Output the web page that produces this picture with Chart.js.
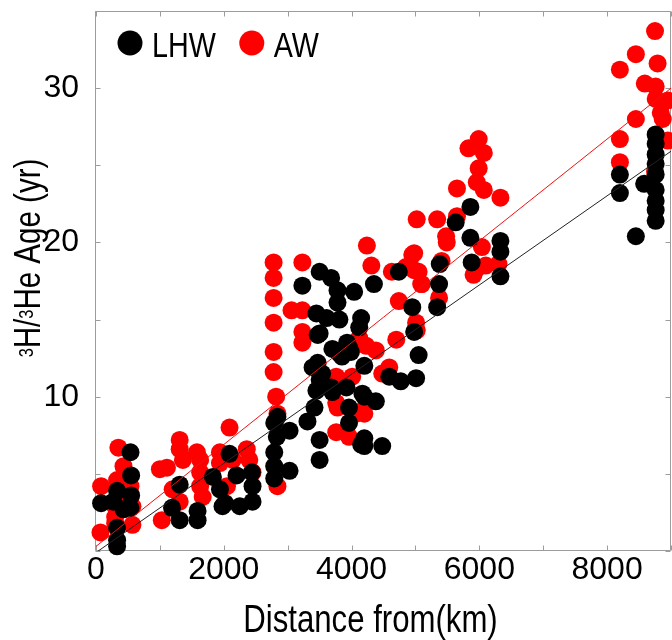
<!DOCTYPE html>
<html>
<head>
<meta charset="utf-8">
<script src="https://cdn.jsdelivr.net/npm/chart.js@4.4.1/dist/chart.umd.min.js"></script>
<style>
  html, body { margin: 0; padding: 0; background: #fff; overflow: hidden; }
  canvas { display: block; }
</style>
</head>
<body>
<canvas id="chart" width="680" height="640"></canvas>
<script>
// LHW samples: distance (km) and 3H/3He age (yr)
const lhwDist = [
  80, 330, 270, 540, 550, 550, 540, 330, 330, 330, 430,
  1310, 1190, 1310, 1590, 1590,
  2090, 1830, 1940, 1980, 2200, 2250, 2440, 2450, 2450, 2020,
  2790, 2830, 2790, 2790, 2790, 3030, 3030, 2840,
  3230, 3500, 3680, 3780, 3780, 4040, 3450, 3610, 3810, 3470, 3700, 3930,
  3990, 3850, 3470, 3540, 3450, 3680, 3920, 4170, 4380, 4150, 4350, 4740,
  4200, 4590, 4770, 5010, 4950, 4980, 5050, 5380, 5370, 5340, 5880,
  4200, 4200, 4200, 4480, 3960, 3960, 3700, 3310, 3500, 3500, 3420, 3390,
  3500, 4150, 3500, 4120, 3960, 3810,
  5630, 5860, 5860, 6330, 6330, 6330,
  8200, 8200, 8580, 8450, 8760, 8760, 8760, 8760, 8760, 8760, 8760, 8760, 8760
];
const lhwAge = [
  3.1, 3.9, 3.2, 6.4, 4.9, 3.6, 2.8, 1.5, 0.7, 0.3, 2.7,
  4.3, 2.8, 2.0, 2.6, 2.0,
  6.3, 4.8, 4.0, 2.9, 4.9, 2.9, 5.1, 4.2, 3.2, 3.1,
  8.3, 7.4, 6.4, 5.5, 4.7, 7.8, 5.2, 8.7,
  17.2, 18.1, 17.7, 16.9, 16.1, 16.8, 15.4, 15.1, 15.0, 14.0, 13.1, 13.5,
  12.9, 12.6, 12.2, 11.5, 10.4, 10.6, 10.6, 10.2, 9.7, 15.1, 17.3, 18.1,
  12.0, 11.3, 11.0, 11.2, 15.8, 14.2, 12.7, 18.6, 17.3, 15.8, 18.7,
  10.0, 7.3, 6.8, 6.8, 9.3, 8.3, 10.3, 8.4, 7.2, 5.9, 9.3, 11.9,
  11.1, 6.9, 14.1, 14.5, 13.2, 12.8,
  21.3, 22.3, 20.3, 20.1, 19.4, 17.8,
  24.4, 23.2, 23.8, 20.4, 27.0, 26.4, 25.7, 25.1, 24.4, 23.4, 22.7, 22.1, 21.4
];

// AW samples
const awDist = [
  80, 70, 350, 430, 490, 540, 570, 570, 300, 300, 300, 330, 380, 1000, 1030,
  1310, 1310, 1360, 1580, 1630, 1630, 1630, 1200, 1310, 1670, 1110,
  2090, 1940, 1940, 2140, 2360, 2400, 2450, 2050,
  2780, 2780, 2780, 2780, 2780, 2780, 2820, 2840, 2840,
  3230, 3060, 3230, 3230, 3230,
  4240, 4310, 4740, 4230, 4380, 4590, 4700, 5020, 4980, 4850, 4980, 5090,
  5370, 5010, 4480, 4200, 5910, 6100, 6300, 3780, 3760, 3960, 4170, 4070,
  3760, 4630, 3760, 4010, 4120,
  5990, 5830, 6070, 5990, 5960, 6070, 5650, 6330, 5020, 5340, 5650, 5480,
  5490, 6040, 5960, 5410, 4950, 5050, 5100,
  8750, 8450, 8200, 8790, 8590, 8760, 8760, 8840, 8870, 8450, 8200, 8200,
  8750, 8950, 8950
];
const awAge = [
  4.2, 1.2, 6.7, 5.5, 4.6, 4.2, 2.9, 1.7, 2.9, 2.2, 1.8, 4.6, 3.6, 5.3, 2.0,
  7.2, 6.6, 5.9, 6.4, 5.9, 5.1, 4.2, 4.0, 3.2, 3.5, 5.4,
  8.0, 6.4, 5.7, 5.9, 6.6, 5.9, 5.1, 4.2,
  18.7, 17.7, 16.4, 14.8, 12.9, 11.6, 10.0, 8.9, 4.2,
  18.7, 15.6, 15.6, 14.2, 13.5,
  19.8, 18.5, 16.2, 13.3, 13.0, 11.9, 13.7, 14.3, 19.3, 18.4, 18.2, 17.3,
  16.4, 14.8, 11.5, 8.9, 17.9, 18.5, 18.6, 9.3, 7.7, 7.4, 9.1, 8.9,
  9.6, 18.1, 11.3, 11.3, 13.8,
  26.7, 26.1, 25.8, 24.8, 23.9, 23.4, 23.5, 22.9, 21.5, 21.5, 21.7, 20.4,
  20.0, 19.7, 18.3, 18.8, 19.2, 18.1, 17.3,
  33.7, 32.2, 31.2, 31.6, 30.3, 30.1, 29.3, 28.4, 28.0, 28.0, 26.7, 25.2,
  24.6, 26.6, 29.2
];

// linear fits: [intercept (yr), slope (yr per km)]
const lhwFit = [-0.1, 0.00289];
const awFit = [0.3, 0.0033];

const xRange = [0, 9000];
const yRange = [0, 35];
const xTicks = [0, 2000, 4000, 6000, 8000];
const yTicks = [10, 20, 30];
const xMinorStep = 1000;
const yMinorStep = 5;

const FONT = "'Liberation Sans', Arial, sans-serif";
const NARROW = 0.82; // horizontal squeeze for the condensed label face

function pairs(xs, ys) {
  return xs.map((x, i) => ({ x: x, y: ys[i] }));
}

function fitLine(fit) {
  return xRange.map(x => ({ x: x, y: fit[0] + fit[1] * x }));
}

// condensed text: returns drawn width
function narrowText(ctx, text, x, y, size, align) {
  ctx.save();
  ctx.font = size + "px " + FONT;
  const w = ctx.measureText(text).width * NARROW;
  const x0 = align === "center" ? x - w / 2 : x;
  ctx.translate(x0, y);
  ctx.scale(NARROW, 1);
  ctx.textAlign = "left";
  ctx.fillText(text, 0, 0);
  ctx.restore();
  return w;
}

function narrowWidth(ctx, text, size) {
  ctx.save();
  ctx.font = size + "px " + FONT;
  const w = ctx.measureText(text).width * NARROW;
  ctx.restore();
  return w;
}

// BOX + INWARD TICKS
const frame = {
  id: "frame",
  beforeDatasetsDraw(chart) {
    const { ctx, chartArea: a, scales } = chart;
    const L = Math.round(a.left) - 0.5, R = Math.round(a.right) - 0.5;
    const T = Math.round(a.top) + 0.5, B = Math.round(a.bottom) - 0.5;
    ctx.save();
    ctx.strokeStyle = "#9c9c9c";
    ctx.lineWidth = 1;
    ctx.beginPath();
    ctx.rect(L, T, R - L, B - T);
    for (let v = xRange[0]; v <= xRange[1]; v += xMinorStep) {
      const px = Math.round(scales.x.getPixelForValue(v)) + 0.5;
      ctx.moveTo(px, B); ctx.lineTo(px, B - 5);
      ctx.moveTo(px, T); ctx.lineTo(px, T + 5);
    }
    for (let v = yRange[0]; v <= yRange[1]; v += yMinorStep) {
      const py = Math.round(scales.y.getPixelForValue(v)) + 0.5;
      ctx.moveTo(L, py); ctx.lineTo(L + 5, py);
      ctx.moveTo(R, py); ctx.lineTo(R - 5, py);
    }
    ctx.stroke();
    ctx.restore();
  }
};

// LEGEND + AXIS TITLES
const labels = {
  id: "labels",
  afterDraw(chart) {
    const { ctx, chartArea: a } = chart;
    ctx.save();
    ctx.textBaseline = "alphabetic";

    let lx = a.left + 34;
    const ly = a.top + 32;
    chart.data.datasets.filter(d => d.inLegend).forEach(d => {
      ctx.fillStyle = d.backgroundColor;
      ctx.beginPath();
      ctx.arc(lx, ly, 12.5, 0, Math.PI * 2);
      ctx.fill();
      ctx.fillStyle = "#000";
      const w = narrowText(ctx, d.label, lx + 22, ly + 13.5, 35, "left");
      lx += 22 + w + 36;
    });

    ctx.fillStyle = "#000";
    narrowText(ctx, "Distance from(km)", (a.left + a.right) / 2 - 13, 632, 38, "center");

    // rotated y title with small raised 3s
    ctx.translate(40, 258);
    ctx.rotate(-Math.PI / 2);
    const size = 36, sup = 20;
    const parts = [
      { t: "3", s: sup, dy: -7 }, { t: "H/", s: size, dy: 0 },
      { t: "3", s: sup, dy: -7 }, { t: "He Age (yr)", s: size, dy: 0 }
    ];
    const total = parts.reduce((sum, p) => sum + narrowWidth(ctx, p.t, p.s), 0);
    let cx = -total / 2;
    parts.forEach(p => {
      cx += narrowText(ctx, p.t, cx, p.dy, p.s, "left");
    });
    ctx.restore();
  }
};

const tickFont = { family: FONT, size: 32 };

new Chart(document.getElementById("chart"), {
  type: "scatter",
  data: {
    datasets: [
      {
        type: "line",
        label: "AW fit",
        data: fitLine(awFit),
        borderColor: "#f01010",
        borderWidth: 1,
        pointRadius: 0,
        order: 0
      },
      {
        type: "line",
        label: "LHW fit",
        data: fitLine(lhwFit),
        borderColor: "#222",
        borderWidth: 1,
        pointRadius: 0,
        order: 0
      },
      {
        label: "LHW",
        inLegend: true,
        data: pairs(lhwDist, lhwAge),
        backgroundColor: "#000000",
        pointRadius: 9,
        pointHoverRadius: 9,
        borderWidth: 0,
        clip: false,
        order: 1
      },
      {
        label: "AW",
        inLegend: true,
        data: pairs(awDist, awAge),
        backgroundColor: "#ff0000",
        pointRadius: 9,
        pointHoverRadius: 9,
        borderWidth: 0,
        clip: false,
        order: 2
      }
    ]
  },
  options: {
    responsive: false,
    animation: false,
    events: [],
    layout: { padding: { left: 0, top: 11, right: 7, bottom: 0 } },
    plugins: {
      legend: { display: false },
      tooltip: { enabled: false }
    },
    scales: {
      x: {
        type: "linear",
        min: xRange[0],
        max: xRange[1],
        afterBuildTicks: s => { s.ticks = xTicks.map(v => ({ value: v })); },
        afterFit: s => { s.height = 89; s.paddingLeft = 0; s.paddingRight = 0; },
        border: { display: false },
        grid: { display: false },
        ticks: { font: tickFont, color: "#000", padding: -8, maxRotation: 0, autoSkip: false, callback: v => String(v) }
      },
      y: {
        type: "linear",
        min: yRange[0],
        max: yRange[1],
        afterBuildTicks: s => { s.ticks = yTicks.map(v => ({ value: v })); },
        afterFit: s => { s.width = 96; s.paddingTop = 0; s.paddingBottom = 0; },
        border: { display: false },
        grid: { display: false },
        ticks: { font: tickFont, color: "#000", padding: 9, callback: v => String(v) }
      }
    }
  },
  plugins: [frame, labels]
});
</script>
</body>
</html>
